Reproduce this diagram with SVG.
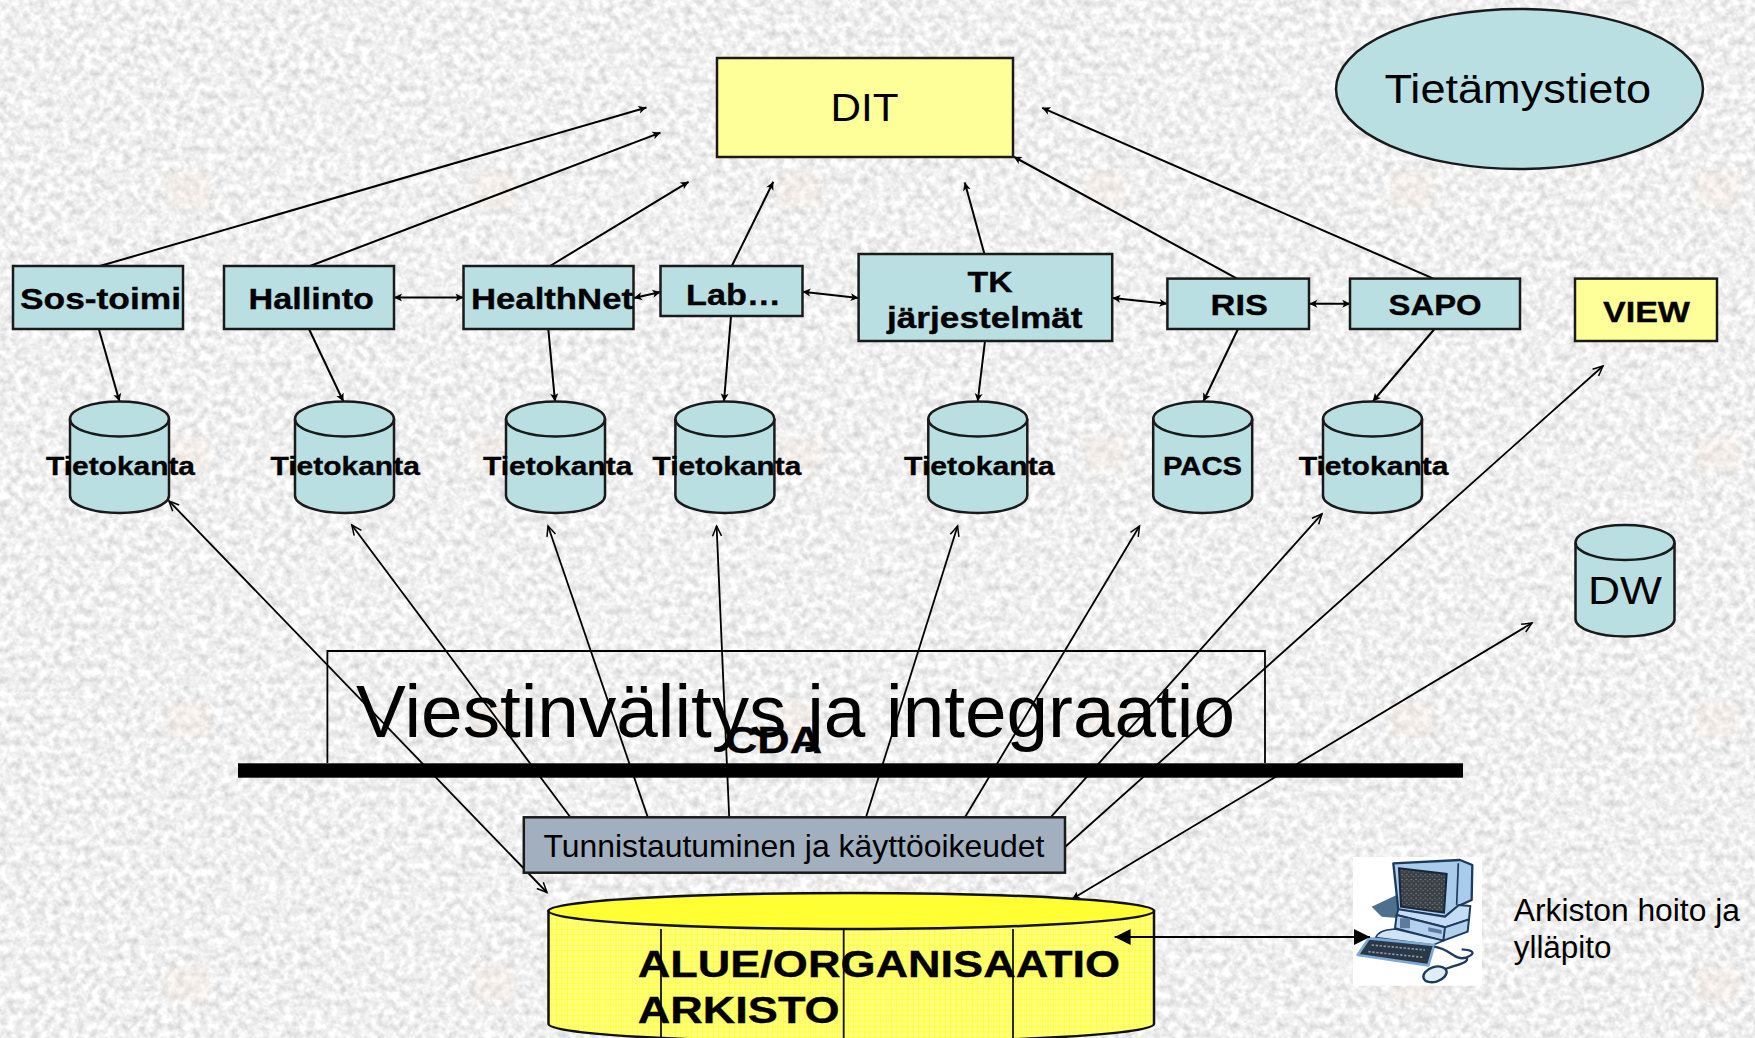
<svg xmlns="http://www.w3.org/2000/svg" width="1755" height="1038" viewBox="0 0 1755 1038">
<style>
text{font-family:"Liberation Sans",Arial,sans-serif;fill:#000;}
.b{font-weight:700;stroke:#000;stroke-width:0.35;}
.n{fill:#B9DFE2;stroke:#1a1a1a;stroke-width:2.5;}
.y{fill:#FFFF99;stroke:#1a1a1a;stroke-width:2.5;}
.c{fill:none;stroke:#000;stroke-width:1.8;}
.d{fill:none;stroke:#000;stroke-width:2;marker-end:url(#tri);}
.dd{fill:none;stroke:#000;stroke-width:2;marker-end:url(#tri);marker-start:url(#tri);}
.u{fill:none;stroke:#000;stroke-width:1.8;marker-end:url(#open);}
.t25{font-size:26px;}
.t28{font-size:30px;}
</style>
<defs>
<filter id="granite" x="0" y="0" width="100%" height="100%" color-interpolation-filters="sRGB">
<feTurbulence type="fractalNoise" baseFrequency="0.13" numOctaves="3" seed="7"/>
<feColorMatrix type="matrix" values="0.3 0 0 0 0.79  0.3 0 0 0 0.79  0.3 0 0 0 0.79  0 0 0 0 1"/>
</filter>
<filter id="soft" x="-5%" y="-5%" width="110%" height="110%"><feGaussianBlur stdDeviation="2"/></filter>
<filter id="blur6" x="-30%" y="-30%" width="160%" height="160%"><feGaussianBlur stdDeviation="3"/></filter>
<pattern id="marks" width="306" height="265" patternUnits="userSpaceOnUse" x="38" y="84">
<rect x="130" y="88" width="40" height="34" fill="#F6E4D2" opacity="0.28" filter="url(#blur6)"/>
</pattern>
<pattern id="grid" width="5.4" height="5.4" patternUnits="userSpaceOnUse">
<rect width="5.4" height="5.4" fill="#FFFF78"/>
<path d="M0,0H5.4M0,0V5.4" stroke="#FFFF20" stroke-width="1.1" fill="none"/>
</pattern>
<pattern id="speck" width="14" height="14" patternUnits="userSpaceOnUse">
<rect width="14" height="14" fill="#3A3F46"/>
<circle cx="3" cy="4" r="2.2" fill="#8A8F94"/><circle cx="10" cy="10" r="2.2" fill="#777C82"/><circle cx="11" cy="3" r="1.3" fill="#1E2228"/>
</pattern>
<marker id="tri" viewBox="0 0 10 10" refX="10" refY="5" markerWidth="9" markerHeight="8" markerUnits="userSpaceOnUse" orient="auto-start-reverse" overflow="visible"><path d="M0,0L10,5L0,10L2.5,5Z" fill="#000"/></marker>
<marker id="open" viewBox="0 0 10 10" refX="10" refY="5" markerWidth="12" markerHeight="10" markerUnits="userSpaceOnUse" orient="auto-start-reverse" overflow="visible"><path d="M0,0.5L10,5L0,9.5" fill="none" stroke="#000" stroke-width="1.5"/></marker>
<marker id="big" viewBox="0 0 10 10" refX="10" refY="5" markerWidth="16" markerHeight="16" markerUnits="userSpaceOnUse" orient="auto-start-reverse" overflow="visible"><path d="M0,0L10,5L0,10Z" fill="#000"/></marker>
<g id="cyl">
<path d="M0,17.5A49.5,17.5 0 0 1 99,17.5V94A49.5,17.5 0 0 1 0,94Z" class="n"/>
<path d="M0,17.5A49.5,17.5 0 0 0 99,17.5" fill="none" stroke="#1a1a1a" stroke-width="2.5"/>
</g>
</defs>

<g id="background">
<rect width="1755" height="1038" fill="#ECECEC" filter="url(#granite)"/>
<rect width="1755" height="1038" fill="url(#marks)"/>
</g>

<g id="frame">
<path class="c" d="M327.4,763V651H1265V763"/>
</g>

<g id="connectors">
<path class="d" d="M100,266L646.5,107.5"/>
<path class="d" d="M310,266L660.5,132.6"/>
<path class="d" d="M550,266L688.6,181.8"/>
<path class="d" d="M731.8,266L773.3,181.8"/>
<path class="d" d="M984.4,254L964.8,182.5"/>
<path class="d" d="M1237,278.6L1013.6,156.7"/>
<path class="d" d="M1433.4,278.6L1042.2,107.8"/>
<path class="d" d="M98.8,329L119.5,401.5"/>
<path class="d" d="M309,329L343.4,401.5"/>
<path class="d" d="M548.3,329L555,401.5"/>
<path class="d" d="M731,316L724,401.5"/>
<path class="d" d="M985,341L977.7,401.5"/>
<path class="d" d="M1238,329L1203.3,401.5"/>
<path class="d" d="M1434.5,329L1372.8,401.5"/>
<path class="dd" d="M394,297.6H463.5"/>
<path class="dd" d="M634,298L660.5,292"/>
<path class="dd" d="M802.5,291.7L858.6,298"/>
<path class="dd" d="M1112.4,298L1167.4,303.7"/>
<path class="dd" d="M1309.3,303.7H1350.3"/>
<path class="u" d="M547,892.5L169,501" style="marker-start:url(#open)"/>
<path class="u" d="M570.4,817.3L351.8,525"/>
<path class="u" d="M647.8,817.3L548,526"/>
<path class="u" d="M729.2,817.3L716.6,526"/>
<path class="u" d="M866,817.3L957.6,526"/>
<path class="u" d="M965,817.3L1139.5,526"/>
<path class="u" d="M1050.6,817.3L1322,513.8"/>
<path class="u" d="M1065,847L1603,366"/>
<path class="u" d="M1072,899L1532,623" style="marker-start:url(#tri)"/>
</g>

<g id="dit"><rect class="y" x="717" y="58" width="296" height="99"/><text x="830.5" y="120.5" font-size="39" textLength="68" lengthAdjust="spacingAndGlyphs">DIT</text></g>
<g id="tietamystieto"><ellipse class="n" cx="1519.5" cy="89" rx="183.5" ry="80"/><text x="1384.5" y="103.3" font-size="40" textLength="266.5" lengthAdjust="spacingAndGlyphs">Tietämystieto</text></g>

<g id="sos"><rect class="n" x="13" y="266" width="170" height="63"/><text class="b t28" x="20" y="309" textLength="161" lengthAdjust="spacingAndGlyphs">Sos-toimi</text></g>
<g id="hallinto"><rect class="n" x="224" y="266" width="170" height="63"/><text class="b t28" x="248.6" y="309" textLength="125.4" lengthAdjust="spacingAndGlyphs">Hallinto</text></g>
<g id="healthnet"><rect class="n" x="463.5" y="266" width="170" height="63"/><text class="b t28" x="471" y="309" textLength="162" lengthAdjust="spacingAndGlyphs">HealthNet</text></g>
<g id="lab"><rect class="n" x="660.5" y="266" width="142" height="50"/><text class="b t28" x="686" y="304.8" textLength="95" lengthAdjust="spacingAndGlyphs">Lab…</text></g>
<g id="tk"><rect class="n" x="858.6" y="254" width="253.6" height="87"/><text class="b t28" x="967.6" y="291.7" textLength="45" lengthAdjust="spacingAndGlyphs">TK</text><text class="b t28" x="887" y="328" textLength="195.6" lengthAdjust="spacingAndGlyphs">järjestelmät</text></g>
<g id="ris"><rect class="n" x="1167.4" y="278.6" width="141.6" height="50.4"/><text class="b t28" x="1210.6" y="315" textLength="57.4" lengthAdjust="spacingAndGlyphs">RIS</text></g>
<g id="sapo"><rect class="n" x="1350" y="278.6" width="170" height="50.4"/><text class="b t28" x="1388.5" y="315" textLength="93.1" lengthAdjust="spacingAndGlyphs">SAPO</text></g>
<g id="view"><rect class="y" x="1575" y="278.6" width="142" height="62.4"/><text class="b t28" x="1603" y="322" textLength="87" lengthAdjust="spacingAndGlyphs">VIEW</text></g>

<g id="db1"><use href="#cyl" x="70" y="401.5"/><text class="b t25" x="46" y="474.5" textLength="149" lengthAdjust="spacingAndGlyphs">Tietokanta</text></g>
<g id="db2"><use href="#cyl" x="295" y="401.5"/><text class="b t25" x="270.5" y="474.5" textLength="149.3" lengthAdjust="spacingAndGlyphs">Tietokanta</text></g>
<g id="db3"><use href="#cyl" x="506" y="401.5"/><text class="b t25" x="483" y="474.5" textLength="149.4" lengthAdjust="spacingAndGlyphs">Tietokanta</text></g>
<g id="db4"><use href="#cyl" x="675.4" y="401.5"/><text class="b t25" x="652.6" y="474.5" textLength="148.7" lengthAdjust="spacingAndGlyphs">Tietokanta</text></g>
<g id="db5"><use href="#cyl" x="928.3" y="401.5"/><text class="b t25" x="904" y="474.5" textLength="150.6" lengthAdjust="spacingAndGlyphs">Tietokanta</text></g>
<g id="pacs"><use href="#cyl" x="1153.2" y="401.5"/><text class="b t25" x="1163" y="474.5" textLength="79" lengthAdjust="spacingAndGlyphs">PACS</text></g>
<g id="db7"><use href="#cyl" x="1323" y="401.5"/><text class="b t25" x="1298.7" y="474.5" textLength="149.8" lengthAdjust="spacingAndGlyphs">Tietokanta</text></g>
<g id="dw"><use href="#cyl" x="1575.5" y="525"/><text x="1588" y="604" font-size="39" textLength="74" lengthAdjust="spacingAndGlyphs">DW</text></g>

<g id="viestinvalitys">
<text x="356" y="737" font-size="75" textLength="879" lengthAdjust="spacingAndGlyphs">Viestinvälitys ja integraatio</text>
<text class="b" x="725" y="753" font-size="37" textLength="97" lengthAdjust="spacingAndGlyphs">CDA</text>
<rect x="238" y="763.3" width="1225" height="14.4" fill="#000"/>
</g>

<g id="tunnistautuminen"><rect x="523.8" y="817.3" width="541.2" height="55.4" fill="#A2AFBE" stroke="#1a1a1a" stroke-width="2.5"/><text x="543.4" y="856.7" font-size="32" textLength="501" lengthAdjust="spacingAndGlyphs">Tunnistautuminen ja käyttöoikeudet</text></g>

<g id="arkisto">
<path d="M548.5,911V1024A302.75,18 0 0 0 1154,1024V911Z" fill="url(#grid)" stroke="#111" stroke-width="2.5"/>
<ellipse cx="851.25" cy="911" rx="302.75" ry="18" fill="#FFFF33" stroke="#111" stroke-width="2.5"/>
<path d="M661,929V1040M843.7,929V1040M1013,929V1040" fill="none" stroke="#111" stroke-width="1.8"/>
<text class="b" x="637.7" y="977" font-size="37" textLength="482.3" lengthAdjust="spacingAndGlyphs">ALUE/ORGANISAATIO</text>
<text class="b" x="637.7" y="1023" font-size="37" textLength="202" lengthAdjust="spacingAndGlyphs">ARKISTO</text>
</g>

<g id="computer">
<rect x="1353" y="857" width="129" height="128.7" fill="#fff"/>
<g transform="translate(1345,850) scale(0.3333)" filter="url(#soft)">
<path d="M80,170L155,135L170,205L110,200Z" fill="#4F6F8C"/>
<path d="M145,40L345,30L382,45L380,150L340,168L300,200L160,180Z" fill="#A9CBEC" stroke="#1D3A5C" stroke-width="7" stroke-linejoin="round"/>
<path d="M340,40L335,165" stroke="#1D3A5C" stroke-width="5" fill="none"/>
<path d="M162,55L305,72L297,188L168,170Z" fill="url(#speck)" stroke="#16263A" stroke-width="6"/>
<path d="M155,195L300,232L372,208L376,168L342,165L300,200L160,178Z" fill="#C4DCF4" stroke="#1D3A5C" stroke-width="6" stroke-linejoin="round"/>
<path d="M155,195L150,235L295,272L300,232ZM295,272L368,245L372,208L300,232Z" fill="#B3D0EE" stroke="#1D3A5C" stroke-width="6" stroke-linejoin="round"/>
<path d="M165,205h30v30h-30ZM250,232l40,8v12l-40,-8Z" fill="#5D7C9C"/>
<path d="M150,237C115,240 100,245 92,263L265,285L295,272L150,237Z" fill="#CFE2F6" stroke="#1D3A5C" stroke-width="5"/>
<path d="M72,265L268,285L250,346L38,315Z" fill="#2A3746" stroke="#7FA9D6" stroke-width="8" stroke-linejoin="round"/>
<path d="M80,285L240,300M70,305L235,322" stroke="#8D9CAC" stroke-width="5" stroke-dasharray="7 5" fill="none"/>
<path d="M268,290C320,298 330,335 365,322C395,310 385,300 350,298M365,322C375,340 330,345 300,358" fill="none" stroke="#1D3A5C" stroke-width="7"/>
<ellipse cx="270" cy="373" rx="36" ry="22" transform="rotate(-18 270 373)" fill="#E2ECF7" stroke="#1D3A5C" stroke-width="7"/>
</g>
</g>

<g id="arkiston-hoito">
<text x="1513.7" y="921" font-size="31" textLength="226.3" lengthAdjust="spacingAndGlyphs">Arkiston hoito ja</text>
<text x="1513.7" y="958" font-size="31" textLength="97.8" lengthAdjust="spacingAndGlyphs">ylläpito</text>
</g>

<g id="connector-arkisto">
<path d="M1114.6,937H1370" fill="none" stroke="#000" stroke-width="2" marker-start="url(#big)" marker-end="url(#big)"/>
</g>
</svg>
